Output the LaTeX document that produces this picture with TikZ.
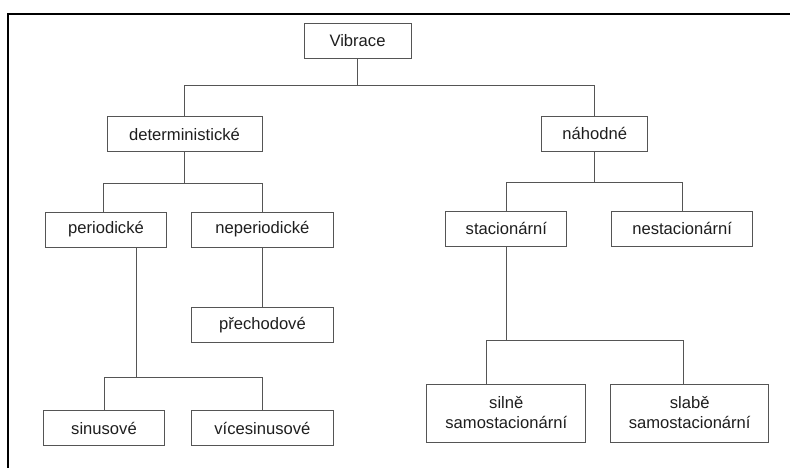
\documentclass[tikz,border=0pt]{standalone}
\usepackage{fontspec}
\setmainfont{Liberation Sans}
\usetikzlibrary{positioning}
\definecolor{lineColor}{RGB}{85,85,85}
\definecolor{textColor}{RGB}{30,30,30}
\tikzset{category/.style={draw=lineColor, line width=0.9pt, text=textColor, align=center, inner sep=0pt, minimum height=35pt, font=\fontsize{16.6}{20}\selectfont}}
\tikzset{twoline/.style={category, minimum height=58pt}}
\tikzstyle{link} = [draw=lineColor, line width=0.9pt]

\begin{document}
\begin{tikzpicture}[x=1pt, y=-1pt]
	\useasboundingbox (0,0) rectangle (790,468);
	% Frame
	\draw [line width=1.8pt] (790,14) -- (8,14) -- (8,468);

	% Nodes
		\node (vibrace) [category, minimum width=107pt] at (357.5,40.5) {Vibrace};

		\node (determ) [category, minimum width=155pt] at (184.5,134) {deterministické};
		\node (nahodne) [category, minimum width=106pt] at (594.7,133.5) {náhodné};

		\node (periodicke) [category, minimum width=121pt] at (106,229.5) {periodické};
		\node (neperiodicke) [category, minimum width=142pt, right=24pt of periodicke] {neperiodické};
		\node (prechodove) [category, minimum width=142pt, below=60pt of neperiodicke] {přechodové};

		\node (vicesinusove) [category, minimum width=142pt, below=67pt of prechodove] {vícesinusové};
		\node (sinusove) [category, minimum width=121pt, left=26pt of vicesinusove] {sinusové};

		\node (stacionarni) [category, minimum width=121pt] at (506.3,228.5) {stacionární};
		\node (nestacionarni) [category, minimum width=141pt, right=44pt of stacionarni] {nestacionární};

		\node (silne) [twoline, minimum width=159pt] at (506.3,413) {silně\\ samostacionární};
		\node (slabe) [twoline, minimum width=158pt, right=24pt of silne] {slabě\\ samostacionární};

		% Connectors
		\draw [link] (vibrace.south) -- ++(0,27) -| (determ.north);
		\draw [link] (vibrace.south) -- ++(0,27) -| (nahodne.north);

		\draw [link] (determ.south) -- ++(0,31) -| ([xshift=-3pt]periodicke.north);
		\draw [link] (determ.south) -- ++(0,31) -| (neperiodicke.north);

		\draw [link] (neperiodicke) -- (prechodove);

		\draw [link] ([xshift=30pt]periodicke.south) -- ++(0,130) -| (sinusove.north);
		\draw [link] ([xshift=30pt]periodicke.south) -- ++(0,130) -| (vicesinusove.north);

		\draw [link] (nahodne.south) -- ++(0,31) -| (stacionarni.north);
		\draw [link] (nahodne.south) -- ++(0,31) -| (nestacionarni.north);

		\draw [link] (stacionarni.south) -- ++(0,94) -| ([xshift=-20pt]silne.north);
		\draw [link] (stacionarni.south) -- ++(0,94) -| ([xshift=-6pt]slabe.north);

\end{tikzpicture}
\end{document}
